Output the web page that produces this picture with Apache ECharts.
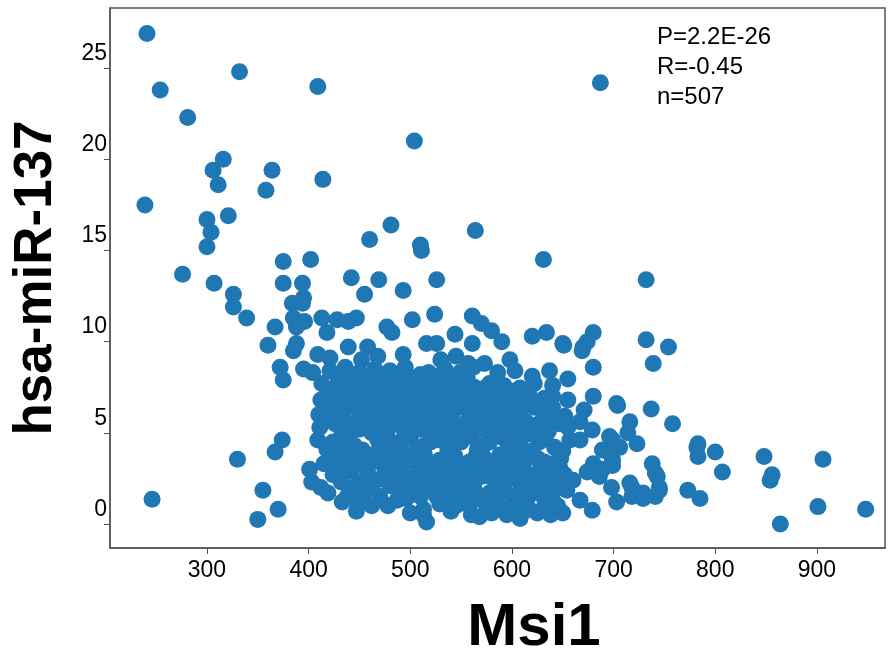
<!DOCTYPE html>
<html>
<head>
<meta charset="utf-8">
<script src="https://cdn.jsdelivr.net/npm/echarts@6/dist/echarts.min.js"></script>
<style>
html,body{margin:0;padding:0;background:#fff;}
#chart{width:896px;height:651px;}
</style>
</head>
<body>
<div id="chart"></div>
<script>
// Msi1 (x) values
var msi1 = [
241,254,281,332,409,687,504,239,316,306,311,364,358,414,321,300,304,300,481,564,460,511,510,375,402,631,276,307,375,394,442,469,526,732,493,455,326,395,326,384,394,339,385,396,388,367,413,428,439,447,418,477,482,502,524,544,561,570,580,561,590,620,634,650,670,674,680,669,651,680,655,732,754,739,360,385,388,409,439,458,372,375,404,413,516,526,598,573,603,637,
374,367,330,355,350,370,246,401,403,411,409,
704,737,758,716,783,800,783,807,848,856,854,906,901,948,864,773,785,738,741,745,741,729,718,718,703,698,699,699,723,714,689,689,680,655,671,703,679,667,696,706,696,680,699,743,647,674,660,686,716,729,745,654,667,679,650,782,
421,452,468,493,530,545,
395,421,436,450,465,480,495,510,534,549,562,586,620,
429,443,455,468,482,495,507,521,535,549,563,578,592,608,622,640,
418,434,448,461,475,487,500,514,529,544,558,573,588,603,617,632,
416,431,446,460,475,490,504,519,534,549,563,578,592,608,622,637,652,
426,441,455,477,490,504,519,534,549,563,578,592,608,622,647,667,
424,439,453,468,485,500,514,529,544,560,578,592,608,627,642,657,
421,436,450,470,485,500,514,529,544,558,573,588,603,617,632,
424,441,460,475,490,504,519,534,549,563,578,592,608,622,637,
419,443,458,480,504,519,534,549,563,578,592,608,622,637,
433,448,487,513,529,558,573,588,603,617,632,
513,516,568,608,
440,474,502,527,556,
425,452,480,512,540,570,598,
425,455,482,509,538,566,595,625,
420,450,483,512,541,571,600,630,
433,462,497,526,556,585,615,636,
430,477,507,537,566,597,620,650,
429,458,492,521,551,580,611,640,
432,467,497,526,556,585,615,645,
438,470,496,526,556,585,615,640,
437,462,490,518,547,583,612,
440,468,496,525,552,582,612,640,
435,463,496,527,556,585,614,642,
445,470,492,520,550,572,600,633,
442,464,493,507,536,565,595,625,648,
450,482,511,541,570,600,630,652,
453,510,541,570,600,629,645,
540,580,595,625,
412,410,415,412,418,414,
447,462,478,500,545,560,612,638,
462,492,527,557,587,617,648,
437,452,480,512,545,575,603,628,
450,470,510,540,570,598,628,655,
438,466,495,523,553,580,610,640,
435,460,488,518,540,557
];
// hsa-miR-137 (y) values
var mir137 = [
26.9,23.8,22.3,24.8,24.0,24.2,21.0,17.5,20.0,19.4,18.6,19.4,18.3,18.9,16.9,16.7,16.0,15.2,16.4,16.1,15.6,15.0,15.3,14.4,14.5,14.5,13.7,13.2,13.2,13.2,13.5,13.4,13.4,13.4,12.8,12.6,12.6,12.4,11.9,12.1,12.1,11.3,11.3,11.1,10.8,10.8,11.3,11.2,11.1,11.3,10.5,10.8,10.5,11.2,11.5,10.4,11.4,11.0,10.6,9.9,10.0,10.3,10.5,9.9,9.7,10.0,10.5,9.5,9.8,8.6,7.95,10.1,9.7,8.8,9.8,9.5,9.9,9.3,9.7,9.7,8.6,7.9,8.3,7.7,9.9,9.9,9.0,8.8,8.4,8.4,
4.6,3.95,3.55,1.85,0.25,0.8,1.35,3.0,2.3,5.3,4.6,
6.5,6.3,5.5,5.6,4.4,3.95,3.7,2.85,3.7,2.7,2.4,3.55,0.95,0.8,0.0,1.85,1.4,3.3,2.8,2.0,1.5,1.4,2.0,1.5,1.2,2.0,3.5,4.6,4.4,5.0,4.05,3.0,7.0,6.8,6.25,6.6,5.15,4.6,4.8,4.2,3.9,3.3,3.2,2.6,3.1,2.85,2.4,2.6,2.25,1.7,1.85,1.85,1.3,0.75,0.6,4.2,
9.1,9.0,9.2,9.3,9.0,9.2,
8.5,8.4,8.6,8.3,8.5,8.4,8.6,8.2,8.5,8.3,8.6,8.3,8.1,
7.8,7.6,7.9,7.7,7.5,7.8,7.6,7.8,7.6,7.9,7.5,7.7,7.6,7.45,7.7,7.6,
7.1,6.9,7.2,7.0,7.1,6.9,7.0,6.8,7.1,6.9,7.2,6.9,7.0,6.8,7.1,6.9,
6.3,6.1,6.4,6.0,6.3,6.2,6.0,6.3,6.1,6.4,6.0,6.2,6.3,6.0,6.4,6.1,5.9,
5.5,5.3,5.6,5.0,5.4,5.6,5.3,5.5,5.2,5.5,5.3,5.6,5.2,5.4,5.5,5.6,
4.5,4.7,4.05,4.6,4.4,4.7,4.3,4.6,4.4,4.8,4.5,4.7,4.3,4.5,4.2,4.6,
3.7,3.5,3.6,3.4,3.7,3.5,3.8,3.5,3.7,3.4,3.6,3.8,3.5,3.7,3.4,
2.7,2.9,2.6,2.8,2.9,2.6,2.8,3.0,2.7,2.9,2.6,2.8,3.0,2.7,2.9,
1.7,2.0,1.9,2.1,1.8,2.0,1.7,2.1,1.9,1.7,2.0,1.8,2.1,1.9,
1.2,1.15,1.3,0.8,1.1,1.0,1.2,0.9,1.1,0.8,1.0,
0.5,0.1,0.4,0.3,
8.0,8.1,8.0,8.1,8.0,
7.3,7.4,7.3,7.35,7.3,7.4,7.3,
6.6,6.7,6.6,6.5,6.7,6.6,6.6,6.5,
5.8,5.9,5.8,5.7,5.9,5.8,5.9,5.7,
5.0,5.0,5.0,4.9,5.0,5.0,4.9,5.1,
4.1,4.0,4.1,4.0,4.1,4.2,4.0,4.0,
3.2,3.1,3.2,3.2,3.1,3.2,3.2,3.3,
2.3,2.4,2.3,2.4,2.3,2.4,2.3,2.4,
1.5,1.5,1.4,1.5,1.4,1.5,1.4,1.3,
7.5,7.3,7.2,7.1,7.5,7.2,7.2,
6.5,6.4,6.5,6.6,6.5,6.5,6.6,6.4,
5.7,5.6,5.7,5.8,5.6,5.6,5.6,5.8,
4.3,4.3,4.6,4.5,4.5,4.3,4.5,4.7,
3.9,3.8,3.9,3.3,3.3,3.8,3.3,3.6,3.6,
2.3,2.6,2.5,2.5,2.6,2.5,2.6,2.7,
1.6,1.5,1.6,1.5,1.5,1.6,1.0,
0.7,0.6,0.5,0.6,
6.8,6.0,3.3,2.0,4.1,5.7,
0.7,1.0,1.0,0.6,1.0,0.5,0.7,0.5,
2.0,1.9,2.1,2.0,2.1,2.0,2.0,
3.0,3.2,3.3,3.0,3.0,3.1,3.0,3.1,
5.2,5.5,5.2,5.1,5.2,5.2,5.1,5.3,
6.9,6.8,6.8,6.9,6.8,6.8,6.9,7.0,
8.2,8.0,8.1,8.3,8.0,8.8
];
var xTicks = [300,400,500,600,700,800,900];
var yTicks = [0,5,10,15,20,25];
var statLines = ['P=2.2E-26','R=-0.45','n=507'];
var xTitle = 'Msi1';
var yTitle = 'hsa-miR-137';

var points = [];
for (var i = 0; i < Math.min(msi1.length, mir137.length); i++) points.push([msi1[i], mir137[i]]);

var chart = echarts.init(document.getElementById('chart'), null, {renderer:'canvas'});
var FONT = 'Liberation Sans, Arial, sans-serif';
chart.setOption({
  animation:false,
  backgroundColor:'#ffffff',
  grid:{left:110, top:8, right:11, bottom:103, containLabel:false, outerBoundsMode:'none',
        show:true, borderColor:'#555', borderWidth:1.5, backgroundColor:'transparent'},
  xAxis:{
    type:'value', min:204.6, max:967,
    axisLine:{show:true, onZero:false, lineStyle:{color:'#555', width:1.5}},
    axisTick:{show:true, length:6, customValues:xTicks, lineStyle:{color:'#555'}},
    axisLabel:{customValues:xTicks, fontFamily:FONT, fontSize:23, color:'#000', margin:11},
    splitLine:{show:false}
  },
  yAxis:{
    type:'value', min:-1.32, max:28.3,
    axisLine:{show:true, onZero:false, lineStyle:{color:'#555', width:1.5}},
    axisTick:{show:true, length:6, customValues:yTicks, lineStyle:{color:'#555'}},
    axisLabel:{customValues:yTicks, fontFamily:FONT, fontSize:23, color:'#000', margin:3, verticalAlign:'bottom', lineHeight:29},
    splitLine:{show:false}
  },
  graphic:[{
    type:'text', left:657, top:22,
    style:{text:statLines.join('\n'), fontFamily:FONT, fontSize:24, lineHeight:30, fill:'#000'}
  },{
    type:'text', x:534, y:628,
    style:{text:xTitle, fontFamily:FONT, fontWeight:'bold', fontSize:60, fill:'#000', align:'center', verticalAlign:'middle'}
  },{
    type:'text', x:36, y:278, rotation:Math.PI/2,
    style:{text:yTitle, fontFamily:FONT, fontWeight:'bold', fontSize:53, fill:'#000', align:'center', verticalAlign:'middle'}
  }],
  series:[{
    type:'scatter', data:points, symbolSize:17,
    itemStyle:{color:'#1f77b4', opacity:1},
    silent:true
  }]
});
</script>
</body>
</html>
